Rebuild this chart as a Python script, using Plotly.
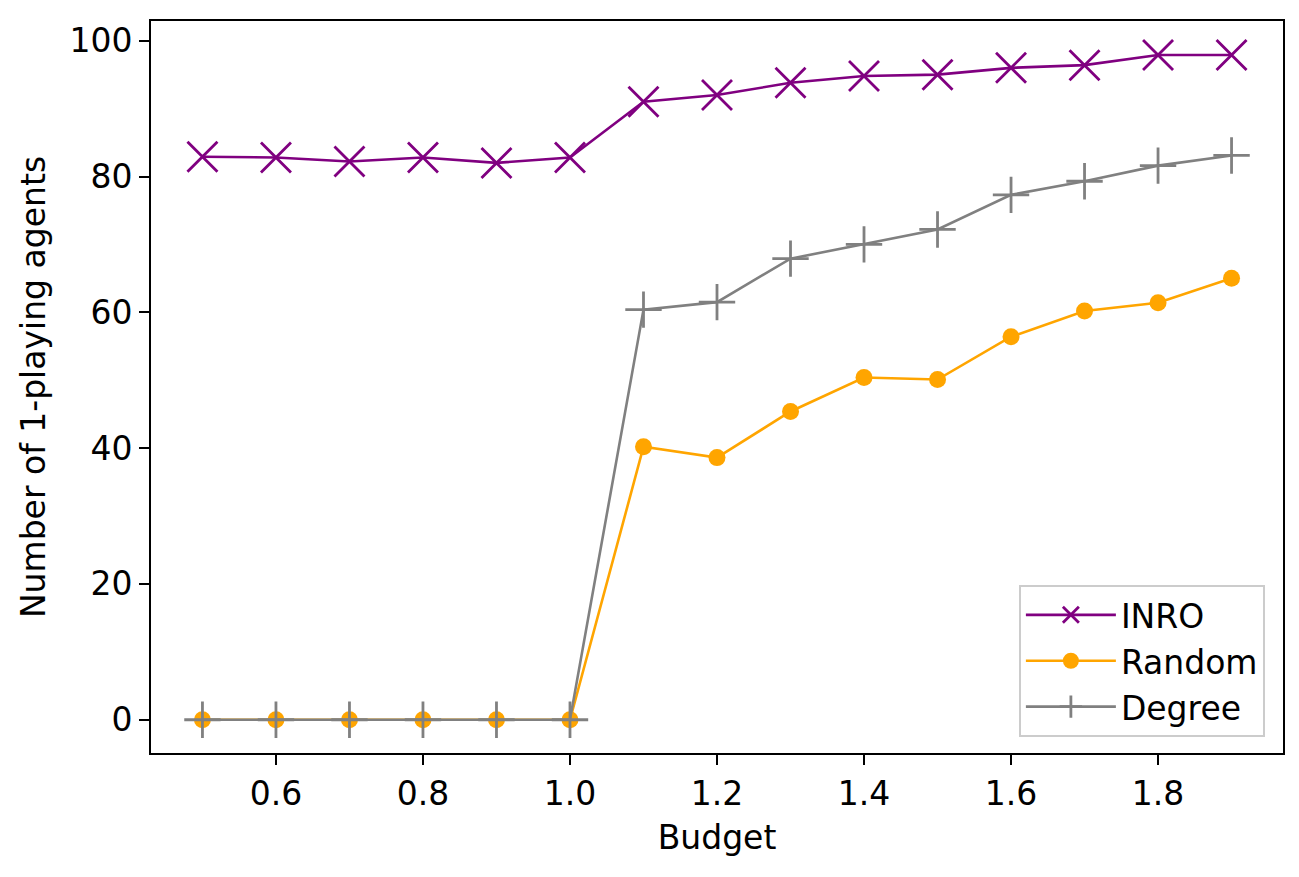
import plotly.graph_objects as go

budget = [0.5, 0.6, 0.7, 0.8, 0.9, 1.0, 1.1, 1.2, 1.3, 1.4, 1.5, 1.6, 1.7, 1.8, 1.9]
inro = [82.9, 82.8, 82.2, 82.8, 82.0, 82.8, 91.0, 92.0, 93.8, 94.8, 95.0, 96.0, 96.4, 97.9, 97.9]
random_ = [0, 0, 0, 0, 0, 0, 40.2, 38.6, 45.4, 50.4, 50.1, 56.4, 60.2, 61.4, 65.0]
degree = [0, 0, 0, 0, 0, 0, 60.4, 61.5, 67.9, 70.0, 72.2, 77.3, 79.3, 81.6, 83.1]

x_ticks = [0.6, 0.8, 1.0, 1.2, 1.4, 1.6, 1.8]
x_tick_labels = ["0.6", "0.8", "1.0", "1.2", "1.4", "1.6", "1.8"]
y_ticks = [0, 20, 40, 60, 80, 100]

FONT = "DejaVu Sans"
FS = 33

fig = go.Figure()
fig.add_trace(go.Scatter(
    x=budget, y=inro, name="INRO", mode="lines+markers",
    line=dict(color="purple", width=2.6),
    marker=dict(symbol="x-thin", size=30, line=dict(color="purple", width=2.8)),
))
fig.add_trace(go.Scatter(
    x=budget, y=random_, name="Random", mode="lines+markers",
    line=dict(color="orange", width=2.6),
    marker=dict(symbol="circle", size=17, color="orange"),
))
fig.add_trace(go.Scatter(
    x=budget, y=degree, name="Degree", mode="lines+markers",
    line=dict(color="gray", width=2.6),
    marker=dict(symbol="cross-thin", size=26, line=dict(color="gray", width=2.8)),
))

axis_common = dict(
    showline=True, linecolor="black", linewidth=2, mirror=True,
    ticks="outside", ticklen=10, tickwidth=2, tickcolor="black",
    showgrid=False, zeroline=False,
    tickfont=dict(family=FONT, size=FS, color="black"),
)

fig.update_layout(
    width=1291, height=869,
    paper_bgcolor="white", plot_bgcolor="white",
    margin=dict(l=143, r=16, t=13, b=124),
    font=dict(family=FONT, size=FS, color="black"),
    xaxis=dict(range=[0.43, 1.97], tickvals=x_ticks, ticktext=x_tick_labels,
               title=dict(text="Budget", font=dict(family=FONT, size=FS), standoff=14),
               **axis_common),
    yaxis=dict(range=[-4.9, 102.9], tickvals=y_ticks,
               title=dict(text="Number of 1-playing agents", font=dict(family=FONT, size=FS), standoff=14),
               **axis_common),
    legend=dict(x=0.984, y=0.022, xanchor="right", yanchor="bottom",
                bgcolor="white", bordercolor="#cccccc", borderwidth=2,
                font=dict(family=FONT, size=FS, color="black"),
                itemsizing="trace", itemwidth=90, tracegroupgap=0),
    showlegend=True,
)

fig.write_html("out.html")
